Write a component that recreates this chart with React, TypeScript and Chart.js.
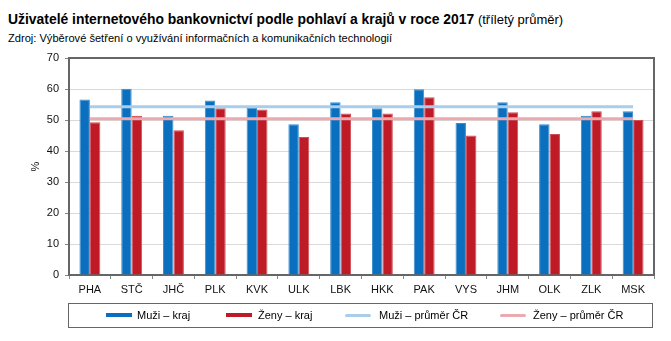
import React, { useEffect, useRef } from "react";
import { Chart, registerables } from "chart.js";

Chart.register(...registerables);

const categories = ["PHA", "STČ", "JHČ", "PLK", "KVK", "ULK", "LBK", "HKK", "PAK", "VYS", "JHM", "OLK", "ZLK", "MSK"];
const muziKraj = [56.6, 60.1, 51.4, 56.3, 53.9, 48.6, 55.7, 53.8, 59.9, 49.0, 55.7, 48.6, 51.4, 52.8];
const zenyKraj = [49.3, 51.4, 46.7, 53.8, 53.4, 44.5, 52.1, 52.1, 57.3, 45.0, 52.5, 45.5, 52.8, 50.0];
const muziPrumer = [54.3, 54.3, 54.3, 54.3, 54.3, 54.3, 54.3, 54.3, 54.3, 54.3, 54.3, 54.3, 54.3, 54.3];
const zenyPrumer = [50.4, 50.4, 50.4, 50.4, 50.4, 50.4, 50.4, 50.4, 50.4, 50.4, 50.4, 50.4, 50.4, 50.4];
const yTicks = [0, 10, 20, 30, 40, 50, 60, 70];

const seriesNames = ["Muži – kraj", "Ženy – kraj", "Muži – průměr ČR", "Ženy – průměr ČR"];
const BLUE = "#0a6fbe";
const RED = "#be1b27";
const LBLUE = "#a9cdea";
const PINK = "#eaaab0";
const FONT = "'Liberation Sans', Arial, sans-serif";

const frame = {
  id: "frame",
  afterDatasetsDraw(chart: any) {
    const { ctx, chartArea } = chart;
    ctx.save();
    ctx.strokeStyle = "#666666";
    ctx.lineWidth = 2;
    ctx.beginPath();
    ctx.moveTo(chartArea.left, chartArea.top);
    ctx.lineTo(chartArea.right, chartArea.top);
    ctx.lineTo(chartArea.right, chartArea.bottom);
    ctx.stroke();
    ctx.restore();
  },
};

export default function App() {
  const ref = useRef<HTMLCanvasElement | null>(null);
  useEffect(() => {
    if (!ref.current) return;
    const chart = new Chart(ref.current, {
      type: "bar",
      data: {
        labels: categories,
        datasets: [
          { type: "line", label: seriesNames[2], data: muziPrumer, borderColor: LBLUE, borderWidth: 3, pointRadius: 0, order: 0 } as any,
          { type: "line", label: seriesNames[3], data: zenyPrumer, borderColor: PINK, borderWidth: 3, pointRadius: 0, order: 0 } as any,
          { type: "bar", label: seriesNames[0], data: muziKraj, backgroundColor: BLUE, borderColor: "#3a8ccc", borderWidth: 1, order: 1, categoryPercentage: 0.5, barPercentage: 1 } as any,
          { type: "bar", label: seriesNames[1], data: zenyKraj, backgroundColor: RED, borderColor: "#d0505a", borderWidth: 1, order: 1, categoryPercentage: 0.5, barPercentage: 1 } as any,
        ],
      },
      options: {
        responsive: false,
        animation: false,
        devicePixelRatio: 1,
        layout: { padding: { left: 29, right: 17, top: 58, bottom: 41 } },
        plugins: { legend: { display: false }, tooltip: { enabled: false }, title: { display: false } },
        scales: {
          x: {
            offset: true,
            grid: { display: true, drawOnChartArea: false, drawTicks: true, tickLength: 4, tickColor: "#888888", offset: true },
            border: { display: true, color: "#666666", width: 2 },
            ticks: { color: "#111111", font: { family: FONT, size: 11 }, padding: 4, maxRotation: 0, autoSkip: false },
            afterFit: (s: any) => { s.height = 25; },
          },
          y: {
            min: 0,
            max: 70,
            afterBuildTicks: (s: any) => { s.ticks = yTicks.map((v) => ({ value: v })); },
            grid: {
              color: (c: any) => (c.tick && c.tick.value === 70 ? "rgba(0,0,0,0)" : "#d9d9d9"),
              tickColor: "#888888",
              tickLength: 4,
              lineWidth: 1,
            },
            border: { display: true, color: "#666666", width: 2 },
            ticks: { color: "#111111", font: { family: FONT, size: 11 }, padding: 6 },
            title: { display: true, text: "%", color: "#111111", font: { family: FONT, size: 11 }, padding: 0 },
            afterFit: (s: any) => { s.width = 40; },
          },
        },
      },
      plugins: [frame],
    } as any);
    return () => chart.destroy();
  }, []);

  const legendItems = [
    { name: seriesNames[0], color: BLUE, h: 4, r: 0, mx: 106, tx: 137 },
    { name: seriesNames[1], color: RED, h: 4, r: 0, mx: 226, tx: 258 },
    { name: seriesNames[2], color: LBLUE, h: 3, r: 2, mx: 345, tx: 379 },
    { name: seriesNames[3], color: PINK, h: 3, r: 2, mx: 500, tx: 533 },
  ];

  return (
    <div style={{ position: "absolute", left: 0, top: 0, width: 671, height: 341, background: "#fff", fontFamily: FONT }}>
      <div style={{ position: "absolute", left: 8, top: 11, color: "#000", whiteSpace: "nowrap", lineHeight: "16px" }}>
        <span style={{ fontWeight: "bold", fontSize: 13.9 }}>Uživatelé internetového bankovnictví podle pohlaví a krajů v roce 2017</span>
        <span style={{ fontSize: 13 }}> (tříletý průměr)</span>
      </div>
      <div style={{ position: "absolute", left: 8, top: 32, fontSize: 11.1, color: "#000", whiteSpace: "nowrap", lineHeight: "13px" }}>
        Zdroj: Výběrové šetření o využívání informačních a komunikačních technologií
      </div>
      <canvas ref={ref} width={671} height={341} style={{ position: "absolute", left: 0, top: 0, width: 671, height: 341 }} />
      <div style={{ position: "absolute", left: 68, top: 303, width: 585, height: 25, border: "1px solid #666", boxSizing: "border-box" }} />
      {legendItems.map((it) => (
        <React.Fragment key={it.name}>
          <div style={{ position: "absolute", left: it.mx, top: 315 - it.h / 2, width: 26, height: it.h, background: it.color, borderRadius: it.r }} />
          <div style={{ position: "absolute", left: it.tx, top: 308, fontSize: 11, lineHeight: "14px", color: "#000", whiteSpace: "nowrap" }}>{it.name}</div>
        </React.Fragment>
      ))}
    </div>
  );
}
